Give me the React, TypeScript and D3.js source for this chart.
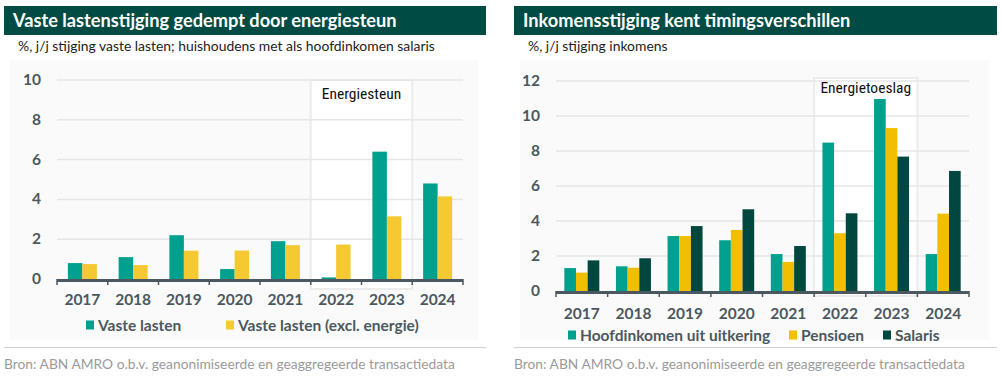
import React from "react";
import * as d3 from "d3";

const years = ["2017", "2018", "2019", "2020", "2021", "2022", "2023", "2024"];

// Left chart: vaste lasten
const leftSeries = ["Vaste lasten", "Vaste lasten (excl. energie)"];
const vasteLasten = [0.8, 1.1, 2.2, 0.5, 1.9, 0.08, 6.4, 4.8];
const vasteLastenExcl = [0.75, 0.7, 1.42, 1.43, 1.7, 1.73, 3.15, 4.15];
const leftTicks = [0, 2, 4, 6, 8, 10];

// Right chart: inkomens
const rightSeries = ["Hoofdinkomen uit uitkering", "Pensioen", "Salaris"];
const uitkering = [1.31, 1.41, 3.14, 2.9, 2.11, 8.48, 10.97, 2.11];
const pensioen = [1.05, 1.33, 3.14, 3.49, 1.66, 3.3, 9.31, 4.42];
const salaris = [1.75, 1.87, 3.71, 4.67, 2.57, 4.44, 7.68, 6.86];
const rightTicks = [0, 2, 4, 6, 8, 10, 12];

const highlightYears = ["2022", "2023"];

const TEAL = "#00a08f";
const YELLOW_L = "#f5c932";
const YELLOW_R = "#f2bf00";
const DARK = "#00473f";
const TITLE_BG = "#004c45";
const AXIS = "#4b5860";
const FONT = "Lato, 'Open Sans', sans-serif";
const NARROW = "'Liberation Sans Narrow', 'Roboto Condensed', Roboto, sans-serif";

type PanelProps = {
  px: number; // panel left
  pw: number; // panel width
  title: string;
  subtitle: string;
  x0: number;
  x1: number;
  yBottom: number;
  yTop: number;
  yMax: number;
  ticks: number[];
  series: string[];
  values: number[][];
  colors: string[];
  groupWidth: number;
  boxLabel: string;
  boxTop: number;
  boxBottom: number;
  boxLabelY: number;
  xLabelY: number;
  legendY: number;
  legendX: number[];
};

function Panel(p: PanelProps) {
  const x = d3.scaleBand<string>().domain(years).range([p.x0, p.x1]).padding(0);
  const y = d3.scaleLinear().domain([0, p.yMax]).range([p.yBottom, p.yTop]);
  const bw = x.bandwidth();
  const off = (bw - p.groupWidth) / 2;
  const xs = d3.scaleBand<string>().domain(p.series).range([off, off + p.groupWidth]).padding(0);
  const bx0 = x(highlightYears[0])!;
  const bx1 = x(highlightYears[highlightYears.length - 1])! + bw;
  return (
    <g>
      {/* title bar */}
      <rect x={p.px} y={6} width={p.pw} height={29} fill={TITLE_BG} />
      <text x={p.px + 9} y={27} fill="#fff" fontFamily={FONT} fontWeight={700} fontSize={18.2}>
        {p.title}
      </text>
      <text x={p.px + 14} y={51} fill="#222" fontFamily={FONT} fontSize={13.9}>
        {p.subtitle}
      </text>
      {/* panel background */}
      <rect x={p.px + 6} y={60} width={p.pw - 14} height={280} fill="#fafafa" />
      {/* highlight box */}
      <rect x={bx0} y={p.boxTop} width={bx1 - bx0} height={p.boxBottom - p.boxTop} fill="#fff" stroke="#ececec" strokeWidth={2} />
      {/* gridlines */}
      {p.ticks.filter((t) => t > 0).map((t) => (
        <line key={t} x1={p.x0} x2={p.x1} y1={y(t)} y2={y(t)} stroke="#e6e6e6" strokeWidth={1.5} />
      ))}
      {/* y labels */}
      {p.ticks.map((t) => (
        <text key={t} x={p.x0 - 16} y={y(t) + 5} textAnchor="end" fill={AXIS} fontFamily={FONT} fontWeight={700} fontSize={15.5}>
          {t}
        </text>
      ))}
      <text x={(bx0 + bx1) / 2} y={p.boxLabelY} textAnchor="middle" fill="#111" fontFamily={NARROW} fontSize={15.5}>
        {p.boxLabel}
      </text>
      {/* bars */}
      {years.map((yr, i) => (
        <g key={yr} transform={`translate(${x(yr)},0)`}>
          {p.series.map((s, j) => {
            const v = p.values[j][i];
            return (
              <rect key={s} x={xs(s)} width={xs.bandwidth()} y={y(v)} height={y(0) - y(v)} fill={p.colors[j]} />
            );
          })}
        </g>
      ))}
      {/* x axis */}
      <line x1={p.x0} x2={p.x1} y1={y(0) + 1.5} y2={y(0) + 1.5} stroke={AXIS} strokeWidth={3} />
      {years.concat(["end"]).map((yr, i) => {
        const tx = p.x0 + i * bw;
        return <line key={yr} x1={tx} x2={tx} y1={y(0)} y2={y(0) + 6} stroke={AXIS} strokeWidth={1.5} />;
      })}
      {years.map((yr) => (
        <text key={yr} x={x(yr)! + bw / 2} y={p.xLabelY} textAnchor="middle" fill={AXIS} fontFamily={FONT} fontWeight={700} fontSize={15.5}>
          {yr}
        </text>
      ))}
      {/* legend */}
      {p.series.map((s, j) => (
        <g key={s}>
          <rect x={p.legendX[j]} y={p.legendY - 10.5} width={8} height={9} fill={p.colors[j]} />
          <text x={p.legendX[j] + 12} y={p.legendY} fill={AXIS} fontFamily={FONT} fontWeight={700} fontSize={15.5}>
            {s}
          </text>
        </g>
      ))}
      {/* separator + source */}
      <line x1={p.px} x2={p.px + p.pw} y1={347.5} y2={347.5} stroke="#cfcfcf" strokeWidth={1} />
      <text x={p.px} y={369} fill="#9a9a9a" fontFamily={FONT} fontSize={13.8}>
        Bron: ABN AMRO o.b.v. geanonimiseerde en geaggregeerde transactiedata
      </text>
    </g>
  );
}

export default function App() {
  return (
    <svg
      width={1001}
      height={381}
      viewBox="0 0 1001 381"
      style={{ position: "absolute", left: 0, top: 0, background: "#fff" }}
    >
      <Panel
        px={4}
        pw={482}
        title="Vaste lastenstijging gedempt door energiesteun"
        subtitle="%, j/j stijging vaste lasten; huishoudens met als hoofdinkomen salaris"
        x0={57}
        x1={463}
        yBottom={279}
        yTop={80}
        yMax={10}
        ticks={leftTicks}
        series={leftSeries}
        values={[vasteLasten, vasteLastenExcl]}
        colors={[TEAL, YELLOW_L]}
        groupWidth={29}
        boxLabel="Energiesteun"
        boxTop={80}
        boxBottom={289}
        boxLabelY={99}
        xLabelY={305}
        legendY={331}
        legendX={[86, 226]}
      />
      <Panel
        px={514}
        pw={483}
        title="Inkomensstijging kent timingsverschillen"
        subtitle="%, j/j stijging inkomens"
        x0={556}
        x1={969}
        yBottom={291}
        yTop={81}
        yMax={12}
        ticks={rightTicks}
        series={rightSeries}
        values={[uitkering, pensioen, salaris]}
        colors={[TEAL, YELLOW_R, DARK]}
        groupWidth={35}
        boxLabel="Energietoeslag"
        boxTop={78}
        boxBottom={296}
        boxLabelY={93}
        xLabelY={319}
        legendY={341}
        legendX={[568, 789, 883]}
      />
    </svg>
  );
}
